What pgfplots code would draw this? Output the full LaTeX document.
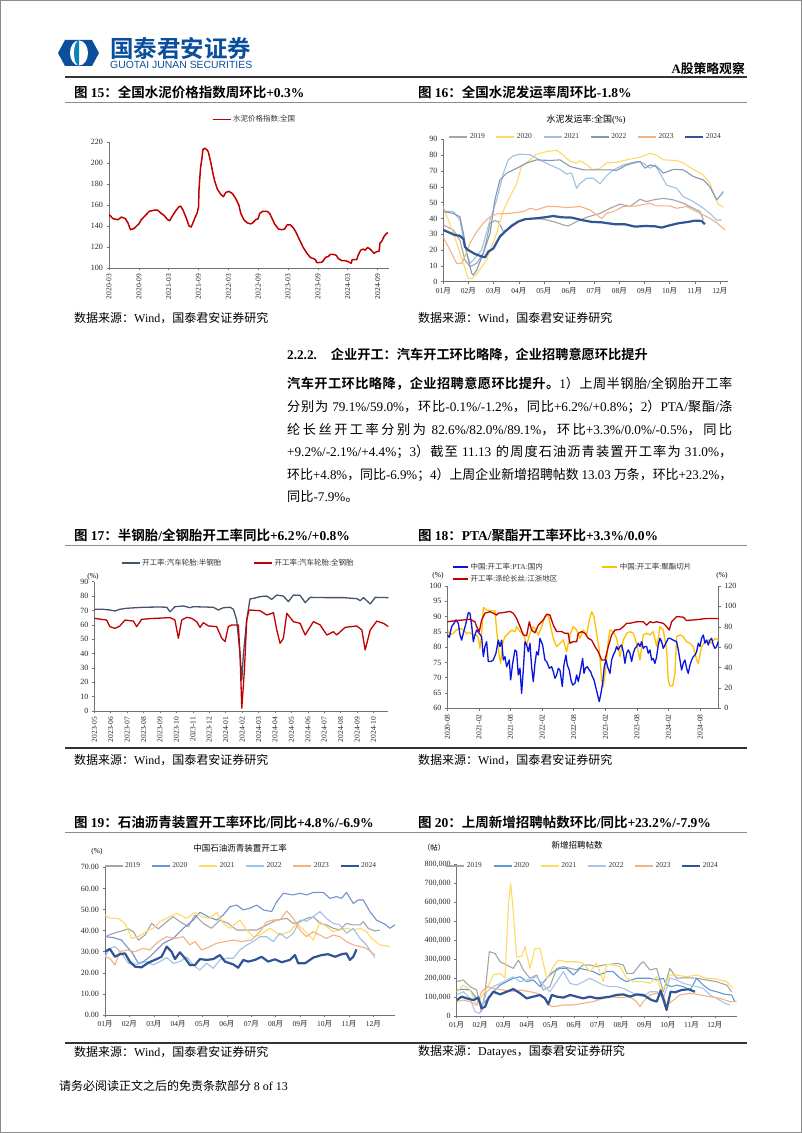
\documentclass[border=0pt]{standalone}
\usepackage{fontspec}
\setmainfont{Liberation Serif}
\newfontfamily\cjk[BoldFont={Noto Sans CJK SC Bold}]{Noto Sans CJK SC}
\newfontfamily\sansf{Liberation Sans}
\usepackage{graphicx}
\usepackage{pgfplots}
\pgfplotsset{compat=1.18}
\newcount\cjkc
\newXeTeXintercharclass\CJKcls
\def\setcjkrange#1#2{\cjkc=#1\relax\loop\XeTeXcharclass\cjkc=\CJKcls\relax\ifnum\cjkc<#2\relax\advance\cjkc by 1\relax\repeat}
\setcjkrange{"3000}{"303F}
\setcjkrange{"4E00}{"9FFF}
\setcjkrange{"FF00}{"FFEF}
\XeTeXinterchartoks 0 \CJKcls = {\cjk}
\XeTeXinterchartoks 4095 \CJKcls = {\cjk}
\XeTeXinterchartoks \CJKcls 0 = {\rmfamily}
\XeTeXinterchartoks 4095 0 = {\rmfamily}
\XeTeXinterchartoks \CJKcls \CJKcls = {\hskip0pt plus 0.1em\relax}
\XeTeXinterchartokenstate=1

\definecolor{logoblue}{HTML}{0B4F9C}
\definecolor{cred}{HTML}{C00000}
\definecolor{c19}{HTML}{A5A5A5}
\definecolor{c20y}{HTML}{FFD966}
\definecolor{c21b}{HTML}{9DC3E6}
\definecolor{c22g}{HTML}{8497B0}
\definecolor{c23o}{HTML}{F4B183}
\definecolor{c24}{HTML}{2F5597}
\definecolor{slate}{HTML}{44546A}
\definecolor{pblue}{HTML}{0A14E0}
\definecolor{pyel}{HTML}{FFC000}
\definecolor{m20}{HTML}{7391CE}
\definecolor{j20}{HTML}{5B9BD5}
\definecolor{j22}{HTML}{A9C4E8}

\newsavebox\jbox
\newcommand\jline[1]{\sbox\jbox{#1}\ifdim\wd\jbox>445pt\resizebox{445pt}{\height}{\usebox\jbox}\else\makebox[445pt][s]{#1}\fi}

\pgfplotsset{
 gstyle/.style={
   scale only axis, axis line style={black!55, line width=0.6pt},
   axis x line*=bottom, axis y line*=left,
   tick style={black!55, line width=0.5pt}, major tick length=2.5pt, tick align=outside,
   tick label style={font=\fontsize{8}{9}\selectfont, text=black!85},
   /pgf/number format/assume math mode=true,
   no markers,
   every axis plot/.append style={line join=round},
   legend style={draw=none, fill=none, font=\fontsize{7.5}{8}\selectfont, inner sep=0pt, text=black!80},
   legend cell align=left,
   legend image code/.code={\draw[line width=1.2pt, ##1] (0pt,0pt) -- (18pt,0pt);}
 },
}

\begin{document}
\begin{tikzpicture}[x=1pt,y=1pt]
\path[use as bounding box] (0,0) rectangle (802,1133);
\fill[white] (0,0) rectangle (802,1133);
\draw[black!45, line width=1pt] (0.5,0.5) rectangle (801.5,1132.5);

% ---------- header ----------
\fill[logoblue] (58,1080) -- (65,1093) -- (92,1093) -- (99,1080) -- (92,1067) -- (65,1067) -- cycle;
\fill[white] (79,1080) ellipse (9pt and 12.5pt);
\fill[logoblue!70!cyan] (79,1092.5) arc[start angle=90, end angle=270, x radius=5pt, y radius=12.5pt] -- cycle;
\node[anchor=west, inner sep=0pt, text=logoblue] at (110,1084) {\bfseries\fontsize{23.5}{24}\selectfont 国泰君安证券};
\node[anchor=west, inner sep=0pt, text=logoblue] at (110,1068) {\resizebox{142pt}{!}{\XeTeXinterchartokenstate=0 \sansf GUOTAI JUNAN SECURITIES}};
\node[anchor=east, inner sep=0pt] at (745,1064) {\bfseries\fontsize{12.8}{13}\selectfont A股策略观察};
\draw[black!80, line width=1.3pt] (65,1056) -- (747,1056);
\node[anchor=west, inner sep=0pt] at (74,1041) {\bfseries\fontsize{13.5}{14}\selectfont 图 15：全国水泥价格指数周环比+0.3\%};
\node[anchor=west, inner sep=0pt] at (418,1041) {\bfseries\fontsize{13.5}{14}\selectfont 图 16：全国水泥发运率周环比-1.8\%};
\draw[black!45, line width=0.8pt] (65,1031) -- (747,1031);

% ---------- chart 15 ----------
\begin{axis}[gstyle, at={(109pt,865pt)}, anchor=south west, width=280pt, height=126pt,
  xmin=0, xmax=56.3, ymin=100, ymax=220, ytick={100,120,...,220},
  xtick={0,6,...,54},
  xticklabels={2020-03,2020-09,2021-03,2021-09,2022-03,2022-09,2023-03,2023-09,2024-03,2024-09},
  xticklabel style={rotate=90, anchor=east, font=\fontsize{7.5}{8}\selectfont},
  legend style={at={(0.52,1.18)}, anchor=center}]
\addplot[cred, line width=1.5pt] coordinates {
(0,151) (0.8,147) (1.8,146) (2.5,148.5) (3.3,147) (3.8,143) (4.3,136.5) (5,137.5) (6,142) (6.5,146)
(7.3,150) (8.1,154) (9.1,155) (9.8,155) (10.5,152) (11.1,150) (11.8,146) (12.2,145) (12.8,150) (13.5,155)
(14,158) (14.4,159) (14.9,155) (15.5,148) (16.1,140) (16.5,139) (16.8,142) (17.3,148) (17.7,152) (18,158)
(18.1,175) (18.4,195) (18.7,205) (18.9,213) (19.3,214) (19.8,212) (20,210) (20.5,200) (20.9,190) (21.3,182)
(21.8,175) (22.5,170) (23,168) (23.5,172) (24.1,173) (24.8,171) (25.5,166) (26.1,160) (26.5,152) (27.1,146)
(27.8,143) (28.5,142) (28.9,143) (29.5,146) (30,147) (30.3,152) (30.9,154) (31.8,154) (32.3,152) (32.8,147)
(33.3,142) (34.1,137) (34.8,136.5) (35.3,137) (35.8,141) (36.5,141) (37.1,138) (37.6,134) (38.3,127) (39,120)
(39.8,114) (40.5,110) (41.1,109) (41.5,108) (41.8,105) (42.8,105.5) (43.1,107) (43.5,110) (44.1,111) (44.5,113)
(45.1,113) (45.7,112) (46.1,109) (46.8,107) (47.5,107) (48.1,106) (48.7,104.5) (48.9,108) (49.8,108) (50.1,112)
(50.6,117) (51.1,118) (51.5,117) (52,119.5) (52.5,118) (52.9,116) (53.3,114) (53.8,115.5) (54.3,116) (54.5,124)
(54.8,125) (55.3,130) (55.8,133) (56.1,133.5)};
\addlegendentry{水泥价格指数:全国}
\end{axis}

% ---------- chart 16 ----------
\node[inner sep=0pt] at (586,1013) {\fontsize{9}{10}\selectfont 水泥发运率:全国(\%)};
\begin{axis}[gstyle, at={(443.3pt,851.3pt)}, anchor=south west, width=284.7pt, height=142.4pt,
  xmin=1, xmax=12.32, ymin=0, ymax=90, ytick={0,10,...,90},
  xtick={1,...,12}, xticklabels={01月,02月,03月,04月,05月,06月,07月,08月,09月,10月,11月,12月},
  xticklabel style={font=\fontsize{7.5}{8}\selectfont},
  legend columns=6, legend style={at={(0.5,1.016)}, anchor=center, /tikz/every even column/.append style={column sep=9pt}}]
\addplot[c19, line width=1.1pt] coordinates {
(1.00,35.9) (1.40,32.7) (1.66,26.4) (1.86,13.7) (2.06,9.5) (2.33,11.6) (2.59,18) (2.72,26.4) (2.86,37) (3.05,38.6)
(3.19,38) (3.39,31.6) (3.65,33.8) (4.05,38.6) (4.45,40) (4.98,39.5) (5.37,38) (5.77,35.9) (5.97,35.2) (6.30,38)
(6.70,40.7) (7.23,43.2) (7.63,46.4) (8.02,49) (8.42,47.5) (8.82,52.1) (9.08,50.6) (9.35,51.7) (9.75,52.7) (10.15,51.7)
(10.54,49.6) (10.87,47) (11.21,44.3) (11.34,39)};
\addlegendentry{2019}
\addplot[c20y, line width=1.1pt] coordinates {
(1.00,47.5) (1.40,30.6) (1.80,11.6) (1.99,2) (2.13,2) (2.33,5) (2.72,13.7) (3.12,30.6) (3.39,45) (3.65,53.8)
(3.92,62) (4.11,72.8) (4.45,77) (4.71,80.6) (5.11,82.3) (5.51,83) (5.77,80) (6.04,76) (6.30,75) (6.43,76.4)
(6.70,74) (6.96,70.7) (7.23,71.7) (7.49,75) (7.89,75.5) (8.29,77) (8.82,78.7) (9.22,81.2) (9.48,80) (9.75,77)
(10.28,76.6) (10.54,75) (10.94,71) (11.34,67.5) (11.60,62) (11.80,53.8) (11.93,49) (12.13,47)};
\addlegendentry{2020}
\addplot[c21b, line width=1.1pt] coordinates {
(1.00,44.7) (1.40,44.3) (1.66,39) (1.86,22) (2.06,11.6) (2.26,14.8) (2.52,20) (2.86,39) (3.12,51.7) (3.39,68.6)
(3.58,77) (3.78,79.5) (4.05,80.6) (4.45,80.2) (4.84,77) (5.24,73.8) (5.64,71) (5.90,68) (6.10,68.8) (6.30,59)
(6.43,62) (6.70,65.4) (6.96,65.4) (7.23,62) (7.49,66.9) (7.76,70.7) (8.16,73.8) (8.69,76) (8.95,75) (9.22,71.7)
(9.42,73.8) (9.61,68.6) (9.88,61) (10.28,59) (10.54,53.8) (10.94,50.6) (11.34,46.4) (11.60,43.2) (11.87,39) (12.07,39)};
\addlegendentry{2021}
\addplot[c22g, line width=1.1pt] coordinates {
(1.00,44.3) (1.40,43.2) (1.66,41) (1.80,30.6) (1.93,18) (2.13,5.3) (2.19,4.2) (2.33,7.4) (2.59,18) (2.86,30.6)
(3.05,51.7) (3.25,64.3) (3.52,68.6) (3.92,71.7) (4.31,75) (4.71,77) (5.24,76.6) (5.64,77) (6.04,72.8) (6.57,70.7)
(7.10,70.7) (7.63,70.7) (7.89,70.3) (8.29,73.8) (8.82,76) (9.02,71.7) (9.22,73.8) (9.48,72.8) (9.75,68.6) (10.15,71)
(10.54,70.7) (10.94,66.5) (11.34,64.3) (11.60,60) (11.87,51.7) (12.07,55.5) (12.13,57)};
\addlegendentry{2022}
\addplot[c23o, line width=1.1pt] coordinates {
(1.00,28) (1.20,22) (1.40,15.8) (1.53,11.6) (1.73,11.6) (1.86,15.8) (2.06,24.3) (2.33,31.6) (2.59,37) (2.86,41)
(3.12,42.8) (3.65,43.2) (4.18,44.3) (4.45,46.4) (4.71,45.4) (5.11,47.5) (5.51,47.5) (5.90,46.8) (6.43,47.5) (6.83,45.4)
(7.10,42.2) (7.30,40) (7.49,43.2) (7.76,44.3) (8.16,47.5) (8.69,47.9) (9.22,49.6) (9.48,47.9) (10.01,47.9) (10.28,46.4)
(10.68,47.5) (11.07,44.3) (11.34,42.2) (11.60,40) (11.87,37.3) (12.20,32.7)};
\addlegendentry{2023}
\addplot[c24, line width=2.2pt] coordinates {
(1.00,32.7) (1.46,29.5) (1.66,29) (1.80,27) (1.86,22) (1.99,20) (2.26,17.5) (2.52,16) (2.66,15.4) (2.79,19)
(2.99,21) (3.25,28.5) (3.45,31.6) (3.72,35.4) (3.98,38) (4.25,39.5) (4.64,40) (5.04,40.7) (5.37,41.5) (5.71,40.7)
(6.10,40.5) (6.50,39) (6.90,37.8) (7.30,37.5) (7.83,36.3) (8.22,36.3) (8.62,34.8) (9.02,35.2) (9.42,35) (9.68,34.2)
(9.95,35.4) (10.34,36.9) (10.74,37.8) (11.01,38.6) (11.27,38.4) (11.40,36.3)};
\addlegendentry{2024}
\end{axis}

\node[anchor=west, inner sep=0pt] at (74,815) {\fontsize{12}{13}\selectfont 数据来源：Wind，国泰君安证券研究};
\node[anchor=west, inner sep=0pt] at (418,815) {\fontsize{12}{13}\selectfont 数据来源：Wind，国泰君安证券研究};

% ---------- text ----------
\node[anchor=west, inner sep=0pt] at (287,778) {\bfseries\fontsize{13.2}{14}\selectfont 2.2.2.\hspace{14pt}企业开工：汽车开工环比略降，企业招聘意愿环比提升};
\begin{scope}[every node/.style={anchor=west, inner sep=0pt, font=\fontsize{13.2}{14}\selectfont}]
\node at (287,749) {\jline{{\bfseries 汽车开工环比略降，企业招聘意愿环比提升。}1）上周半钢胎/全钢胎开工率}};
\node at (287,726) {\jline{分别为 79.1\%/59.0\%，环比-0.1\%/-1.2\%，同比+6.2\%/+0.8\%；2）PTA/聚酯/涤}};
\node at (287,703) {\jline{纶长丝开工率分别为 82.6\%/82.0\%/89.1\%，环比+3.3\%/0.0\%/-0.5\%，同比}};
\node at (287,681) {\jline{+9.2\%/-2.1\%/+4.4\%；3）截至 11.13 的周度石油沥青装置开工率为 31.0\%，}};
\node at (287,658) {\jline{环比+4.8\%，同比-6.9\%；4）上周企业新增招聘帖数 13.03 万条，环比+23.2\%，}};
\node at (287,636) {同比-7.9\%。};
\end{scope}

\node[anchor=west, inner sep=0pt] at (74,598) {\bfseries\fontsize{13.5}{14}\selectfont 图 17：半钢胎/全钢胎开工率同比+6.2\%/+0.8\%};
\node[anchor=west, inner sep=0pt] at (418,598) {\bfseries\fontsize{13.5}{14}\selectfont 图 18：PTA/聚酯开工率环比+3.3\%/0.0\%};
\draw[black!45, line width=0.8pt] (65,588) -- (747,588);

% ---------- chart 17 ----------
\node[inner sep=0pt] at (93,556) {\fontsize{7.5}{8}\selectfont (\%)};
\begin{axis}[gstyle, at={(94.3pt,422pt)}, anchor=south west, width=294pt, height=129.3pt,
  xmin=0, xmax=17.9, ymin=0, ymax=90, ytick={0,10,...,90},
  xtick={0,...,17},
  xticklabels={2023-05,2023-06,2023-07,2023-08,2023-09,2023-10,2023-11,2023-12,2024-01,2024-02,2024-03,2024-04,2024-05,2024-06,2024-07,2024-08,2024-09,2024-10},
  xticklabel style={rotate=90, anchor=east, font=\fontsize{7.5}{8}\selectfont},
  legend columns=2, legend style={at={(0.49,1.145)}, anchor=center, /tikz/every even column/.append style={column sep=30pt}}]
\addplot[slate, line width=1.3pt] coordinates {
(0,70.8) (0.55,70.8) (0.95,70.3) (1.26,69.6) (1.56,70.8) (1.97,71.5) (2.99,72.2) (4.00,72.4) (4.41,72.2) (4.61,69.1)
(4.91,72.6) (5.42,73.1) (5.83,71.9) (6.03,72.6) (6.64,72.4) (7.25,72.2) (7.55,70.3) (7.86,71.9) (8.27,72.2) (8.47,70.8)
(8.67,63.3) (8.87,40) (8.98,21.6) (9.08,40) (9.28,63.3) (9.48,78) (9.69,78.4) (10.09,79.6) (10.50,80) (10.80,77.7)
(11.11,80.7) (11.51,80) (11.82,76.1) (12.12,80.7) (12.53,80.5) (12.84,75.4) (13.14,79.1) (14.16,78.9) (15.17,78.9) (15.98,78.2)
(16.19,76.8) (16.39,78.9) (16.80,74.5) (17.10,79.1) (17.91,78.9)};
\addlegendentry{开工率:汽车轮胎:半钢胎}
\addplot[cred, line width=1.3pt] coordinates {
(0,64.5) (0.75,63.3) (0.95,58.7) (1.26,57.5) (1.56,59.2) (1.87,63.3) (2.38,62.6) (2.58,58.7) (2.88,63.8) (3.39,64.3)
(4.61,65) (4.91,63.3) (5.12,50.6) (5.32,63.3) (5.63,65.2) (5.93,64.5) (6.23,62.2) (6.44,58.2) (6.64,61.5) (6.95,59.2)
(7.45,58.7) (7.76,50.6) (7.96,48.3) (8.16,58.7) (8.37,59.9) (8.77,59.9) (8.87,40) (8.98,1.9) (9.14,28.5) (9.28,63.3)
(9.42,70.3) (10.09,69.8) (10.50,66.8) (10.91,68.4) (11.11,56.4) (11.31,47.1) (11.51,50.6) (11.72,68) (12.12,62.2) (12.53,61)
(12.84,52.9) (13.34,62.2) (13.75,59.9) (14.16,52.9) (14.56,55.2) (14.76,52.9) (15.27,58.2) (15.98,59.2) (16.29,56.4) (16.49,42.5)
(16.80,56.4) (17.20,62.6) (17.61,61) (17.91,58.7)};
\addlegendentry{开工率:汽车轮胎:全钢胎}
\end{axis}

% ---------- chart 18 ----------
\node[inner sep=0pt] at (438,557) {\fontsize{7.5}{8}\selectfont (\%)};
\node[inner sep=0pt] at (722,557) {\fontsize{7.5}{8}\selectfont (\%)};
\begin{axis}[gstyle, at={(447.3pt,424.7pt)}, anchor=south west, width=271pt, height=122.3pt,
  xmin=0, xmax=51.46, ymin=0, ymax=120, ytick={0,20,...,120},
  axis y line*=right, axis x line=none]
\addplot[pyel, line width=1.3pt] coordinates {
(0,76.8) (0.51,72) (1.14,73.6) (1.77,76.8) (2.41,78.5) (3.04,76.8) (3.67,73.6) (4.30,74.2) (4.94,72) (5.57,72)
(5.89,68.7) (6.20,58.8) (6.52,73.6) (6.84,99) (7.47,96.5) (8.10,95.8) (9.05,95.8) (9.37,76.8) (9.87,50.7) (10.13,44.1)
(10.51,63.8) (10.95,70.3) (11.58,73.6) (12.22,76.8) (12.85,75.2) (13.16,80.1) (13.80,75.2) (14.43,73.6) (15.06,62.1) (15.70,73.6)
(16.33,80.1) (16.84,76.8) (17.28,72) (17.91,80.1) (18.54,89.9) (19.18,91.5) (19.62,80.1) (20.13,68.7) (20.76,60.5) (21.39,63.8)
(22.03,67) (22.66,55.6) (23.29,72) (23.92,80.1) (24.56,76.8) (25.19,68.7) (25.82,76.8) (26.46,72) (26.96,86.6) (27.41,94.8)
(27.85,89.9) (28.35,73.6) (28.86,57.2) (29.30,27.8) (29.62,21.2) (30.13,40.9) (30.57,67) (30.89,76.8) (31.52,75.2) (32.15,68.7)
(32.78,50.7) (33.42,67) (34.05,73.6) (34.68,75.2) (35.32,73.6) (35.95,63.8) (36.58,47.4) (37.22,72) (37.85,73.6) (38.48,72)
(39.11,75.2) (39.75,60.5) (40.06,68.7) (40.38,80.1) (41.01,76.8) (41.65,57.2) (41.96,27.8) (42.28,21.9) (42.78,21.9) (43.23,34.3)
(43.54,70.3) (44.18,72) (44.81,70.3) (45.44,65.4) (46.08,63.8) (46.71,60.5) (47.34,47.4) (47.66,44.1) (48.29,60.5) (48.92,65.4)
(49.56,67) (50.19,63.8) (50.82,68.7) (51.46,67)};
\end{axis}
\begin{axis}[gstyle, at={(447.3pt,424.7pt)}, anchor=south west, width=271pt, height=122.3pt,
  xmin=0, xmax=51.46, ymin=60, ymax=100, ytick={60,65,...,100},
  xtick={0,6,...,48},
  xticklabels={2020-08,2021-02,2021-08,2022-02,2022-08,2023-02,2023-08,2024-02,2024-08},
  xticklabel style={rotate=90, anchor=east, font=\fontsize{7.5}{8}\selectfont},
  legend columns=2, legend style={at={(0.017,1.204)}, anchor=north west, /tikz/every even column/.append style={column sep=42pt}},
  legend image code/.code={\draw[line width=1.5pt, #1] (0pt,0pt) -- (15pt,0pt);}]
\addplot[pblue, line width=1.3pt] coordinates {
(0,84) (0.38,83.2) (0.82,86.7) (1.27,87.8) (1.65,88.9) (2.09,87.8) (2.41,84) (2.72,82.3) (3.04,84.5) (3.54,87.8)
(3.99,91.3) (4.30,91.1) (4.62,87.2) (4.94,81.8) (5.25,84) (5.57,85.6) (6.08,84.5) (6.52,83.4) (6.84,76.9) (7.15,80.2)
(7.47,81.8) (7.78,75.3) (8.23,75.3) (8.73,75.8) (9.24,78) (9.68,82.3) (10.00,80.2) (10.32,82.3) (10.63,75.8) (10.95,76.9)
(11.27,73.6) (11.77,75.8) (12.03,69.3) (12.41,74.7) (12.85,79.1) (13.16,78.5) (13.48,70.9) (13.80,73.1) (14.11,64.9) (14.43,72.5)
(14.75,81.8) (15.06,80.7) (15.38,78.5) (15.70,81.3) (16.01,73.6) (16.33,68.7) (16.65,74.7) (16.96,78.5) (17.28,77.4) (17.59,82.9)
(18.10,80.7) (18.54,75.8) (18.86,75.3) (19.37,73.1) (19.81,73.6) (20.13,72) (20.44,69.8) (20.76,70.9) (21.08,73.1) (21.39,72.5)
(21.84,67.1) (22.15,74.2) (22.53,77.4) (22.78,74.2) (23.16,72.5) (23.48,69.3) (23.80,67.6) (24.24,68.2) (24.56,70.9) (24.87,68.7)
(25.19,71.4) (25.70,76.3) (25.95,71.4) (26.20,73.1) (26.58,73.6) (26.96,72.5) (27.22,72) (27.53,70.4) (27.85,69.3) (28.16,67.1)
(28.54,64.4) (28.86,62.2) (29.18,64.9) (29.49,68.2) (29.81,73.6) (30.13,75.8) (30.44,73.6) (30.89,71.4) (31.20,75.8) (31.52,77.4)
(31.84,78.5) (32.15,80.2) (32.47,79.1) (32.78,80.2) (33.10,80.7) (33.42,78.5) (33.73,74.7) (34.05,78) (34.37,79.1) (34.68,78)
(35.00,75.3) (35.32,78) (35.63,79.6) (35.95,80.2) (36.27,81.3) (36.58,80.2) (36.90,81.8) (37.22,79.6) (37.53,80.2) (37.85,80.2)
(38.16,78) (38.48,79.1) (38.80,75.8) (39.11,76.3) (39.43,74.7) (39.75,76.9) (40.06,80.7) (40.38,82.9) (40.70,81.8) (41.01,79.6)
(41.33,80.7) (41.65,81.8) (41.96,82.9) (42.28,82.9) (42.91,82.3) (43.54,81.8) (43.86,79.1) (44.18,75.8) (44.49,72.5) (44.81,74.7)
(45.13,75.8) (45.44,73.1) (45.76,71.4) (46.08,74.2) (46.39,75.8) (46.71,76.9) (47.03,77.4) (47.34,78.5) (47.66,81.3) (47.97,80.2)
(48.29,82.9) (48.61,84) (48.92,81.3) (49.24,82.3) (49.56,80.7) (49.87,82.3) (50.19,82.9) (50.51,80.7) (50.82,79.6) (51.14,80.2) (51.46,81.8)};
\addlegendentry{中国:开工率:PTA:国内}
\addlegendimage{pyel, line width=1.5pt}
\addlegendentry{中国:开工率:聚酯切片}
\addplot[cred, line width=1.3pt] coordinates {
(0,88.3) (1.77,88.7) (3.04,88.9) (4.30,89.1) (5.25,88.3) (5.57,86.7) (6.08,85.1) (6.52,88.9) (7.15,91.1) (8.10,91.6)
(8.73,91.1) (9.37,90.5) (9.68,91.1) (10.63,91.3) (11.90,91.7) (12.53,91.1) (13.16,89.4) (13.80,86.7) (14.43,84) (15.06,83.7)
(15.57,88.3) (16.01,85.6) (16.65,84.7) (17.28,87.2) (18.23,88.9) (18.86,90.8) (19.49,90.5) (20.13,87.2) (20.76,85.1) (21.71,85.1)
(22.34,84.5) (22.97,84.5) (23.29,81.3) (23.92,81.8) (24.56,81.8) (24.87,84.5) (25.51,85.1) (26.14,84.5) (26.77,82.9) (27.41,82.3)
(28.04,80.2) (28.67,78.5) (29.30,75.8) (29.94,75.8) (30.57,80.2) (31.20,84) (31.84,85.6) (32.78,85.8) (33.42,86.7) (34.05,87.8)
(34.68,87.8) (35.95,88.3) (37.22,88.3) (37.85,87.2) (38.48,88.3) (39.11,88) (39.75,88.3) (41.01,87.8) (41.65,86.7) (42.15,85.6)
(42.59,88.3) (43.54,90) (44.81,89.8) (45.44,88.7) (46.71,88.9) (47.97,89.1) (49.24,89.4) (51.46,89.4)};
\addlegendentry{开工率:涤纶长丝:江浙地区}
\end{axis}

\draw[black!80, line width=1.3pt] (65,385) -- (747,385);
\node[anchor=west, inner sep=0pt] at (74,373) {\fontsize{12}{13}\selectfont 数据来源：Wind，国泰君安证券研究};
\node[anchor=west, inner sep=0pt] at (418,373) {\fontsize{12}{13}\selectfont 数据来源：Wind，国泰君安证券研究};

\node[anchor=west, inner sep=0pt] at (74,311) {\bfseries\fontsize{13.5}{14}\selectfont 图 19：石油沥青装置开工率环比/同比+4.8\%/-6.9\%};
\node[anchor=west, inner sep=0pt] at (418,311) {\bfseries\fontsize{13.5}{14}\selectfont 图 20：上周新增招聘帖数环比/同比+23.2\%/-7.9\%};
\draw[black!45, line width=0.8pt] (65,301) -- (747,301);

% ---------- chart 19 ----------
\node[inner sep=0pt] at (240,285) {\fontsize{8.5}{9}\selectfont 中国石油沥青装置开工率};
\node[inner sep=0pt] at (97,281) {\fontsize{7.5}{8}\selectfont (\%)};
\begin{axis}[gstyle, at={(105pt,118pt)}, anchor=south west, width=290pt, height=147.7pt,
  xmin=1, xmax=12.89, ymin=0, ymax=70, ytick={0,10,...,70},
  yticklabel style={/pgf/number format/.cd, fixed, fixed zerofill, precision=2},
  xtick={1,...,12}, xticklabels={01月,02月,03月,04月,05月,06月,07月,08月,09月,10月,11月,12月},
  xticklabel style={font=\fontsize{7.5}{8}\selectfont},
  legend columns=6, legend style={at={(0.469,1.009)}, anchor=center, /tikz/every even column/.append style={column sep=9pt}}]
\addplot[c19, line width=1.1pt] coordinates {
(1.00,37.1) (1.34,38.7) (1.68,39.8) (1.96,40.8) (2.16,39.5) (2.37,35.5) (2.64,37.9) (2.91,43.4) (3.19,40.8) (3.53,44.2)
(3.80,46.6) (4.07,44.2) (4.42,41.9) (4.69,47.4) (5.03,43.4) (5.37,41.1) (5.71,45) (6.05,43.4) (6.40,40.3) (6.81,40.3)
(7.22,40.3) (7.63,42.7) (8.04,45) (8.45,45.8) (8.72,43.4) (8.99,44.2) (9.27,45.8) (9.54,46.6) (9.81,43.4) (10.08,42.7)
(10.36,41.1) (10.63,40.3) (10.90,43.4) (11.18,42.7) (11.45,42.7) (11.59,44.2) (11.79,41.1) (12.07,39.8) (12.27,40.3)};
\addlegendentry{2019}
\addplot[m20, line width=1.1pt] coordinates {
(1.00,37.1) (1.34,36.7) (1.68,35.5) (1.89,32.4) (2.09,30) (2.37,24.5) (2.57,25.3) (2.84,27.6) (3.12,30.8) (3.39,34)
(3.80,36.3) (4.21,41.1) (4.62,45) (4.89,48.7) (5.23,46.6) (5.58,45) (5.85,47.4) (6.12,51.3) (6.40,52.1) (6.67,49.8)
(6.94,50.6) (7.22,52.1) (7.49,49.8) (7.83,49) (8.04,53.7) (8.31,57.7) (8.72,56.9) (8.99,57.7) (9.27,56.9) (9.54,58.1)
(9.95,58.1) (10.22,55.3) (10.49,56.1) (10.70,55.3) (10.90,58.1) (11.18,52.9) (11.38,54.5) (11.59,54.5) (11.86,49) (12.13,45)
(12.48,43) (12.68,41.1) (12.89,42.7)};
\addlegendentry{2020}
\addplot[c20y, line width=1.1pt] coordinates {
(1.00,47.4) (1.20,45.8) (1.55,45.8) (1.82,43.4) (2.09,36.3) (2.37,37.1) (2.71,39.8) (2.98,41.1) (3.25,44.2) (3.66,46.6)
(3.94,48.2) (4.35,45.8) (4.69,48.7) (4.96,46.6) (5.30,45.8) (5.58,48.7) (5.85,43.4) (6.12,41.1) (6.53,45) (6.81,40.3)
(7.08,37.1) (7.35,37.9) (7.76,41.1) (8.17,37.9) (8.58,39.5) (8.86,43.4) (9.20,39.8) (9.54,35.5) (9.81,44.2) (10.08,41.9)
(10.36,39.5) (10.63,40.3) (10.90,41.1) (11.18,40.3) (11.45,41.1) (11.72,39.5) (11.93,36.3) (12.27,33.2) (12.68,32.4)};
\addlegendentry{2021}
\addplot[c21b, line width=1.1pt] coordinates {
(1.00,27.6) (1.20,31.6) (1.41,32.4) (1.68,29.2) (1.96,24.5) (2.30,24) (2.71,25.3) (2.98,23.7) (3.25,25.3) (3.53,27.2)
(3.80,24.5) (4.07,25.3) (4.35,27.6) (4.62,23.7) (4.89,21.3) (5.17,24.5) (5.44,22.1) (5.71,26.1) (5.99,26.9) (6.26,26.9)
(6.53,30.8) (6.81,33.2) (7.08,34.8) (7.35,37.1) (7.63,37.1) (7.90,34.8) (8.17,38.7) (8.45,36.3) (8.72,38.7) (8.99,45)
(9.27,44.5) (9.54,46.6) (9.81,49) (10.08,45.8) (10.36,43.4) (10.63,42.7) (10.90,38.7) (11.18,41.1) (11.45,36.3) (11.72,33.2) (12.07,27.2)};
\addlegendentry{2022}
\addplot[c23o, line width=1.1pt] coordinates {
(1.00,27.6) (1.20,26.9) (1.41,23.7) (1.61,30) (1.89,30.8) (2.23,30) (2.57,31.6) (2.84,30.8) (3.19,34.8) (3.53,37.1)
(3.87,36.3) (4.21,37.1) (4.48,33.2) (4.69,34.8) (4.96,30.8) (5.30,32.4) (5.58,34) (5.92,34.8) (6.26,35.5) (6.60,34.8)
(7.01,35.5) (7.35,39.5) (7.63,44.2) (7.90,45) (8.17,45) (8.45,49.3) (8.72,45.8) (8.99,40.3) (9.27,37.1) (9.54,39.5)
(9.81,37.9) (10.08,36.3) (10.36,37.9) (10.63,37.1) (10.90,34.8) (11.18,33.2) (11.45,32.4) (11.72,31.6) (12.07,28.4)};
\addlegendentry{2023}
\addplot[c24, line width=2.2pt] coordinates {
(1.00,30) (1.20,31.3) (1.41,27.6) (1.61,28.8) (1.82,29.2) (2.02,25.3) (2.23,22.9) (2.50,22.6) (2.78,24.8) (3.12,26.5)
(3.32,27.6) (3.53,32.4) (3.73,30) (3.87,26.5) (4.07,29.7) (4.28,26.9) (4.48,23.7) (4.69,23.7) (4.89,26.5) (5.17,26.1)
(5.44,26.5) (5.71,28.4) (5.92,25.3) (6.26,24) (6.46,22.4) (6.67,26.1) (6.87,25.3) (7.15,26.1) (7.42,27.6) (7.69,25.3)
(7.97,26.4) (8.24,25) (8.58,26.1) (8.79,28.4) (8.92,24.5) (9.20,24.5) (9.54,27.2) (9.88,28.4) (10.15,28.8) (10.43,27.6)
(10.70,28.8) (10.90,29.2) (11.04,26.1) (11.18,27.6) (11.31,31.1)};
\addlegendentry{2024}
\end{axis}

% ---------- chart 20 ----------
\node[inner sep=0pt] at (577,288) {\fontsize{8.5}{9}\selectfont 新增招聘帖数};
\node[inner sep=0pt] at (434,285) {\fontsize{7.5}{8}\selectfont （帖）};
\begin{axis}[gstyle, at={(456.7pt,117pt)}, anchor=south west, width=280.3pt, height=151.7pt,
  xmin=1, xmax=12.94, ymin=0, ymax=800000, ytick={0,100000,...,800000}, scaled y ticks=false,
  yticklabel style={/pgf/number format/.cd, fixed, 1000 sep={,}},
  xtick={1,...,12}, xticklabels={01月,02月,03月,04月,05月,06月,07月,08月,09月,10月,11月,12月},
  xticklabel style={font=\fontsize{7.5}{8}\selectfont},
  legend columns=6, legend style={at={(0.45,0.989)}, anchor=center, /tikz/every even column/.append style={column sep=9pt}}]
\addplot[c19, line width=1.1pt] coordinates {
(1.00,181000) (1.28,190000) (1.57,155000) (1.85,137000) (2.06,23000) (2.21,128000) (2.39,339000) (2.63,330000) (2.85,286000) (3.13,269000)
(3.41,251000) (3.63,295000) (3.84,243000) (4.12,199000) (4.41,216000) (4.69,137000) (4.97,155000) (5.26,251000) (5.54,260000) (5.83,251000)
(6.11,243000) (6.39,269000) (6.68,269000) (6.96,260000) (7.25,269000) (7.53,272000) (7.81,278000) (8.10,269000) (8.24,225000) (8.52,225000)
(8.81,272000) (8.95,286000) (9.23,243000) (9.52,251000) (9.80,128000) (10.08,251000) (10.37,199000) (10.79,202000) (11.22,199000) (11.65,190000)
(12.07,181000) (12.50,163000) (12.71,128000)};
\addlegendentry{2019}
\addplot[j20, line width=1.1pt] coordinates {
(1.00,137000) (1.28,141000) (1.57,137000) (1.85,93000) (2.06,58000) (2.28,84000) (2.56,128000) (2.85,163000) (3.13,181000) (3.41,199000)
(3.70,207000) (3.98,181000) (4.26,190000) (4.55,155000) (4.83,199000) (5.12,234000) (5.40,251000) (5.68,251000) (5.97,216000) (6.25,251000)
(6.54,243000) (6.82,234000) (7.10,216000) (7.39,234000) (7.67,234000) (7.96,199000) (8.24,181000) (8.66,199000) (8.95,199000) (9.23,199000)
(9.52,190000) (9.80,199000) (9.94,163000) (10.16,155000) (10.37,163000) (10.65,155000) (10.94,137000) (11.22,199000) (11.50,163000) (11.79,137000)
(12.07,128000) (12.43,114000) (12.71,111000) (12.85,76000)};
\addlegendentry{2020}
\addplot[c20y, line width=1.1pt] coordinates {
(1.00,128000) (1.28,163000) (1.57,137000) (1.85,58000) (2.06,102000) (2.28,146000) (2.56,216000) (2.85,225000) (3.06,199000) (3.20,585000)
(3.30,700000) (3.41,550000) (3.55,313000) (3.77,313000) (3.91,366000) (4.12,251000) (4.34,357000) (4.55,357000) (4.83,199000) (4.97,225000)
(5.12,260000) (5.33,295000) (5.68,286000) (6.11,286000) (6.39,278000) (6.68,234000) (6.96,278000) (7.25,181000) (7.39,272000) (7.67,269000)
(7.96,260000) (8.24,199000) (8.52,181000) (8.95,181000) (9.23,172000) (9.52,207000) (9.73,120000) (9.87,163000) (10.08,216000) (10.37,216000)
(10.79,207000) (11.22,216000) (11.65,199000) (12.07,195000) (12.50,181000) (12.78,146000)};
\addlegendentry{2021}
\addplot[j22, line width=1.1pt] coordinates {
(1.00,111000) (1.28,128000) (1.57,93000) (1.78,23000) (1.99,14000) (2.28,128000) (2.56,155000) (2.85,172000) (3.13,190000) (3.41,207000)
(3.70,181000) (3.98,190000) (4.41,207000) (4.69,163000) (4.97,128000) (5.26,181000) (5.54,234000) (5.83,172000) (6.11,163000) (6.39,181000)
(6.68,199000) (6.96,181000) (7.25,163000) (7.53,155000) (7.81,155000) (8.10,146000) (8.38,128000) (8.66,111000) (8.95,102000) (9.23,128000)
(9.52,128000) (9.80,93000) (10.08,199000) (10.37,190000) (10.65,172000) (10.94,163000) (11.22,155000) (11.50,146000) (11.79,111000) (12.07,93000)
(12.43,67000) (12.64,58000)};
\addlegendentry{2022}
\addplot[c23o, line width=1.1pt] coordinates {
(1.00,76000) (1.28,84000) (1.57,76000) (1.85,58000) (2.06,128000) (2.28,155000) (2.56,146000) (2.99,137000) (3.27,128000) (3.70,137000)
(4.12,128000) (4.41,120000) (4.69,102000) (4.90,58000) (5.12,49000) (5.54,58000) (5.97,58000) (6.39,67000) (6.82,76000) (7.25,93000)
(7.53,102000) (7.96,97000) (8.38,102000) (8.66,76000) (8.81,49000) (8.95,76000) (9.23,111000) (9.52,120000) (9.80,111000) (9.94,58000)
(10.23,84000) (10.51,111000) (10.94,120000) (11.36,111000) (11.79,102000) (12.21,93000) (12.64,76000) (12.92,76000)};
\addlegendentry{2023}
\addplot[c24, line width=2.2pt] coordinates {
(1.00,84000) (1.21,102000) (1.43,93000) (1.71,84000) (1.92,97000) (2.06,40000) (2.21,49000) (2.35,93000) (2.56,128000) (2.85,114000)
(3.13,128000) (3.41,142000) (3.70,120000) (3.98,93000) (4.26,102000) (4.55,111000) (4.76,93000) (4.90,62000) (5.05,111000) (5.26,102000)
(5.54,97000) (5.83,111000) (6.11,102000) (6.39,93000) (6.68,102000) (6.96,93000) (7.25,97000) (7.53,102000) (7.81,111000) (8.10,114000)
(8.38,102000) (8.66,114000) (8.95,111000) (9.30,84000) (9.52,76000) (9.69,135000) (9.94,32000) (10.11,128000) (10.30,125000) (10.58,137000)
(10.87,141000) (11.15,128000)};
\addlegendentry{2024}
\end{axis}

\draw[black!80, line width=1.3pt] (65,90) -- (747,90);
\node[anchor=west, inner sep=0pt] at (74,81) {\fontsize{12}{13}\selectfont 数据来源：Wind，国泰君安证券研究};
\node[anchor=west, inner sep=0pt] at (418,81) {\fontsize{12}{13}\selectfont 数据来源：Datayes，国泰君安证券研究};
\node[anchor=west, inner sep=0pt] at (59,47) {\fontsize{12}{13}\selectfont 请务必阅读正文之后的免责条款部分 8 of 13};
\end{tikzpicture}
\end{document}
